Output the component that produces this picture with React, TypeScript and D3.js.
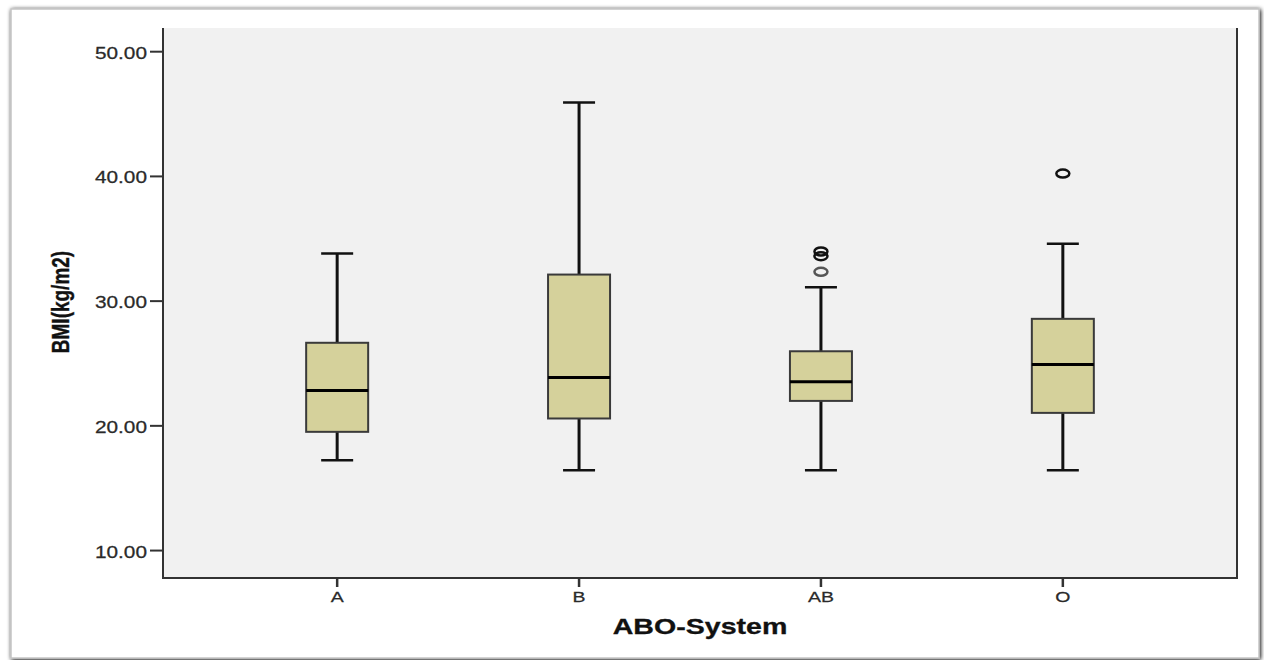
import React, { useEffect, useRef } from 'react';
import * as d3 from 'd3';

// values
const groups = ['A', 'B', 'AB', 'O'];
const whiskerLow = [17.24, 16.44, 16.44, 16.44];
const q1 = [19.52, 20.59, 22.0, 21.04];
const median = [22.83, 23.87, 23.53, 24.92];
const q3 = [26.66, 32.13, 25.98, 28.58];
const whiskerHigh = [33.82, 45.93, 31.11, 34.6];
const outlierGroup = ['AB', 'AB', 'AB', 'O'];
const outlierValue = [33.98, 33.6, 32.35, 40.23];
const outlierShade = ['#111', '#111', '#555', '#111'];
const yTicks = [10, 20, 30, 40, 50];

const W = 1264;
const H = 660;
const SX = 1.3; // the picture is stretched sideways, so is the text

export default function App() {
  const ref = useRef<SVGSVGElement>(null);

  useEffect(() => {
    const svg = d3.select(ref.current);
    svg.selectAll('*').remove();

    const defs = svg.append('defs');
    const f = defs.append('filter').attr('id', 'shadow').attr('x', '-2%').attr('y', '-2%')
      .attr('width', '104%').attr('height', '104%');
    f.append('feGaussianBlur').attr('in', 'SourceAlpha').attr('stdDeviation', 2);
    f.append('feOffset').attr('dx', 1).attr('dy', 1);
    const merge = f.append('feMerge');
    merge.append('feMergeNode');
    merge.append('feMergeNode').attr('in', 'SourceGraphic');

    // outer panel
    svg.append('rect')
      .attr('x', 11).attr('y', 9).attr('width', 1248).attr('height', 649)
      .attr('fill', '#fff')
      .attr('stroke', '#c4c4c4')
      .attr('stroke-width', 1.5)
      .attr('filter', 'url(#shadow)');

    const left = 163;
    const right = 1237;
    const top = 28;
    const bottom = 578;

    const y = d3.scaleLinear().domain([7.8, 51.9]).range([bottom, top]);
    const x = d3.scalePoint<string>().domain(groups).range([left, right]).padding(0.72);

    svg.append('rect')
      .attr('x', left).attr('y', top)
      .attr('width', right - left).attr('height', bottom - top)
      .attr('fill', '#f1f1f1');

    const stretchedText = (px: number, py: number, txt: string, opts: any) => {
      const g = svg.append('g').attr('transform', `translate(${px},${py}) scale(${SX},1)${opts.rotate ? ' rotate(-90)' : ''}`);
      g.append('text')
        .attr('text-anchor', opts.anchor || 'middle')
        .attr('font-family', 'Liberation Sans, Arial, sans-serif')
        .attr('font-size', opts.size)
        .attr('font-weight', opts.bold ? 'bold' : 'normal')
        .attr('fill', opts.color || '#222')
        .attr('stroke', opts.color || '#222')
        .attr('stroke-width', opts.bold ? 0.3 : 0.25)
        .text(txt);
    };

    // y axis ticks and labels
    yTicks.forEach((t) => {
      svg.append('line')
        .attr('x1', left - 13).attr('x2', left)
        .attr('y1', y(t)).attr('y2', y(t))
        .attr('stroke', '#333').attr('stroke-width', 2);
      stretchedText(left - 16, y(t) + 7, d3.format('.2f')(t), { anchor: 'end', size: 16, color: '#2a2a2a' });
    });

    // x axis ticks and labels
    groups.forEach((g) => {
      svg.append('line')
        .attr('x1', x(g)).attr('x2', x(g))
        .attr('y1', bottom).attr('y2', bottom + 9)
        .attr('stroke', '#333').attr('stroke-width', 2.5);
      stretchedText(x(g)!, bottom + 24, g, { size: 15, color: '#2a2a2a' });
    });

    // frame lines (left, bottom, right)
    svg.append('path')
      .attr('d', `M${left},${top}V${bottom}H${right}V${top}`)
      .attr('fill', 'none')
      .attr('stroke', '#333')
      .attr('stroke-width', 2);

    // boxes
    const boxW = 62;
    const capW = 32;
    groups.forEach((g, i) => {
      const cx = x(g)!;
      const gg = svg.append('g');
      gg.append('line')
        .attr('x1', cx).attr('x2', cx)
        .attr('y1', y(whiskerHigh[i])).attr('y2', y(q3[i]))
        .attr('stroke', '#111').attr('stroke-width', 3);
      gg.append('line')
        .attr('x1', cx).attr('x2', cx)
        .attr('y1', y(q1[i])).attr('y2', y(whiskerLow[i]))
        .attr('stroke', '#111').attr('stroke-width', 3);
      [whiskerHigh[i], whiskerLow[i]].forEach((v) => {
        gg.append('line')
          .attr('x1', cx - capW / 2).attr('x2', cx + capW / 2)
          .attr('y1', y(v)).attr('y2', y(v))
          .attr('stroke', '#111').attr('stroke-width', 2.5);
      });
      gg.append('rect')
        .attr('x', cx - boxW / 2).attr('y', y(q3[i]))
        .attr('width', boxW).attr('height', y(q1[i]) - y(q3[i]))
        .attr('fill', '#d5d19b')
        .attr('stroke', '#3a3a3a').attr('stroke-width', 2);
      gg.append('line')
        .attr('x1', cx - boxW / 2).attr('x2', cx + boxW / 2)
        .attr('y1', y(median[i])).attr('y2', y(median[i]))
        .attr('stroke', '#000').attr('stroke-width', 3);
    });

    // outliers
    outlierValue.forEach((v, i) => {
      svg.append('ellipse')
        .attr('cx', x(outlierGroup[i])!)
        .attr('cy', y(v))
        .attr('rx', 6.5).attr('ry', 4)
        .attr('fill', 'none')
        .attr('stroke', outlierShade[i])
        .attr('stroke-width', 2.5);
    });

    // axis titles
    stretchedText(700, 634, 'ABO-System', { size: 22, bold: true, color: '#111' });
    stretchedText(69, 302, 'BMI(kg/m2)', { size: 19, bold: true, color: '#111', rotate: true });
  }, []);

  return (
    <svg ref={ref} width={W} height={H} style={{ position: 'absolute', left: 0, top: 0 }} />
  );
}
